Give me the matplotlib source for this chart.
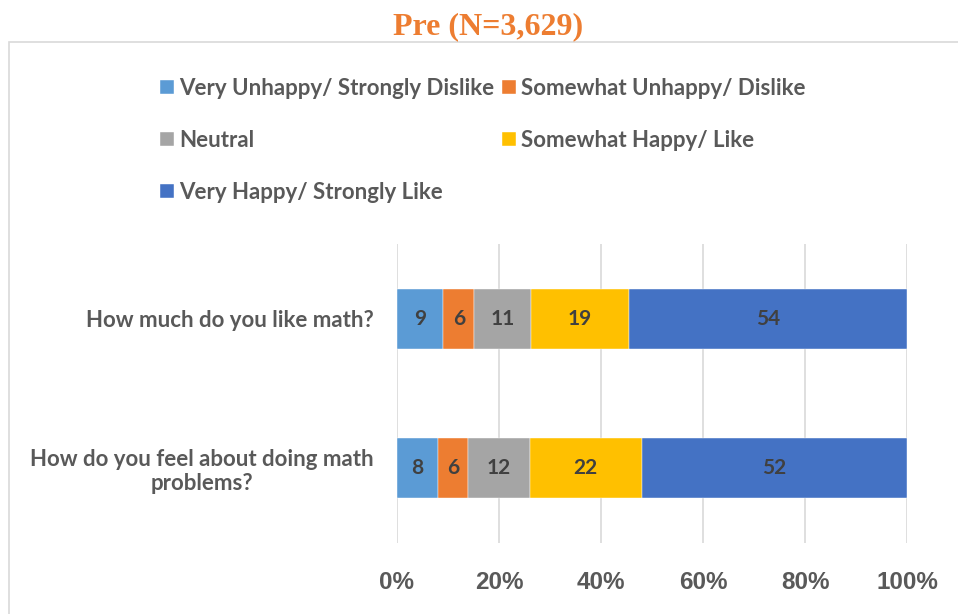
import matplotlib
matplotlib.use("Agg")
import matplotlib.pyplot as plt
from matplotlib.patches import Rectangle
import numpy as np

# data (percent)
questions = ["How much do you like math?",
             "How do you feel about doing math\nproblems?"]
responses = ["Very Unhappy/ Strongly Dislike", "Somewhat Unhappy/ Dislike",
             "Neutral", "Somewhat Happy/ Like", "Very Happy/ Strongly Like"]
like_math = [9, 6, 11, 19, 54]
doing_problems = [8, 6, 12, 22, 52]
colors = ["#5B9BD5", "#ED7D31", "#A5A5A5", "#FFC000", "#4472C4"]

W, H = 958, 614
fig = plt.figure(figsize=(W / 100, H / 100), dpi=100)

# light border of the chart area
fig.patches.append(Rectangle((9 / W, -0.1), 1.2, 1 - 42 / H + 0.1,
                             transform=fig.transFigure, fill=False,
                             edgecolor="#D9D9D9", linewidth=1.2))

ax = fig.add_axes([397 / W, 1 - 543 / H, 510 / W, 299 / H])

data = np.array([like_math, doing_problems], dtype=float)
shares = data / data.sum(axis=1, keepdims=True) * 100
y = np.arange(len(questions))
left = np.zeros(len(questions))
handles = []
for i, resp in enumerate(responses):
    bars = ax.barh(y, shares[:, i], left=left, height=0.4, color=colors[i],
                   edgecolor="white", linewidth=0.3, label=resp, zorder=3)
    handles.append(bars)
    for j in range(len(questions)):
        ax.text(left[j] + shares[j, i] / 2, y[j], f"{int(data[j, i])}",
                ha="center", va="center", fontsize=15, fontweight="bold",
                color="#404040", family="Lato", zorder=4)
    left += shares[:, i]

ax.set_xlim(0, 100)
ax.set_ylim(1.5, -0.5)
ax.set_xticks(np.arange(0, 101, 20))
ax.set_xticklabels([f"{v}%" for v in range(0, 101, 20)],
                   fontsize=17.5, fontweight="bold", color="#595959",
                   family="Liberation Sans")
ax.set_yticks(y)
ax.set_yticklabels(questions, fontsize=16, fontweight="bold", color="#595959",
                   family="Lato", multialignment="center", linespacing=1.15)
ax.tick_params(axis="x", length=0, pad=20)
ax.tick_params(axis="y", length=0, pad=17)
ax.grid(axis="x", color="#D9D9D9", linewidth=1.2, zorder=0)
for s in ax.spines.values():
    s.set_visible(False)

# legend filled row-wise like the original
order = [0, 2, 4, 1, 3]
fig.legend([handles[k] for k in order], [responses[k] for k in order],
           loc="upper left", bbox_to_anchor=(160 / W, 1 - 78 / H), ncol=2,
           frameon=False, handlelength=0.63, handleheight=0.6,
           handletextpad=0.22, columnspacing=0.36, labelspacing=1.4,
           borderaxespad=0, borderpad=0,
           prop={"family": "Lato", "weight": "bold", "size": 16},
           labelcolor="#595959")

fig.text(488 / W, 1 - 27 / H, "Pre (N=3,629)", ha="center", va="center",
         fontsize=23, fontweight="bold", color="#ED7D31",
         family="Liberation Serif")

fig.savefig("out.png", dpi=100)
